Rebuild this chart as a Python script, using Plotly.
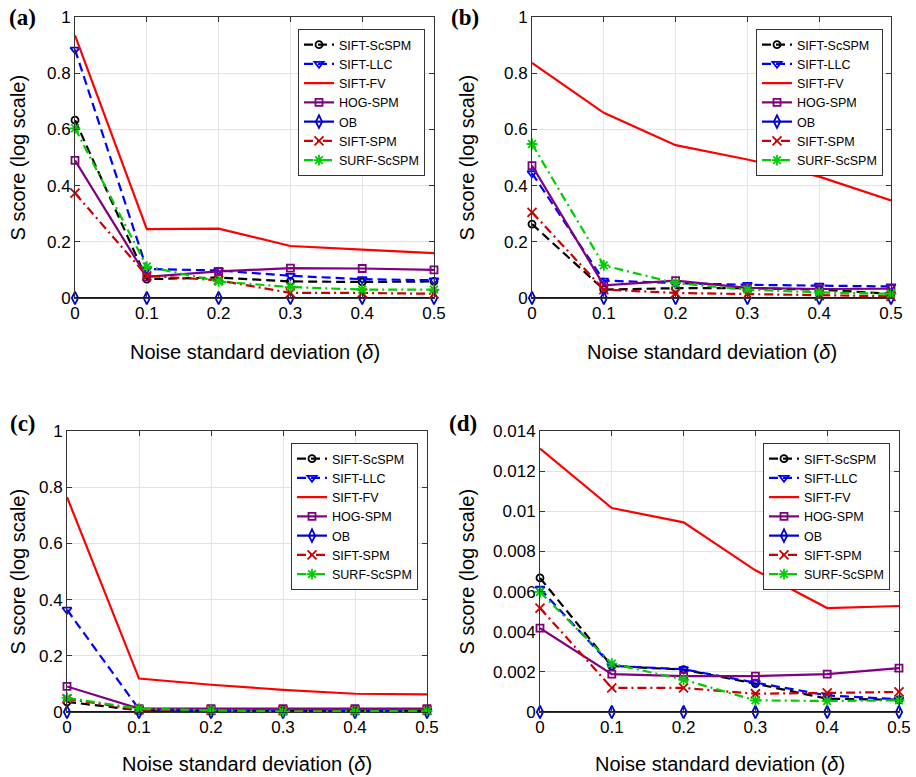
import plotly.graph_objects as go

W, H = 916, 777

noise = [0, 0.1, 0.2, 0.3, 0.4, 0.5]
methods = ["SIFT-ScSPM", "SIFT-LLC", "SIFT-FV", "HOG-SPM", "OB", "SIFT-SPM", "SURF-ScSPM"]

# Panel (a)
a_sift_scspm = [0.633, 0.067, 0.073, 0.059, 0.057, 0.059]
a_sift_llc = [0.884, 0.103, 0.098, 0.079, 0.067, 0.063]
a_sift_fv = [0.935, 0.245, 0.247, 0.185, 0.172, 0.160]
a_hog_spm = [0.490, 0.075, 0.095, 0.106, 0.105, 0.100]
a_ob = [0, 0, 0, 0, 0, 0]
a_sift_spm = [0.373, 0.079, 0.063, 0.018, 0.018, 0.015]
a_surf_scspm = [0.604, 0.112, 0.059, 0.039, 0.030, 0.030]

# Panel (b)
b_sift_scspm = [0.263, 0.030, 0.035, 0.035, 0.030, 0.015]
b_sift_llc = [0.444, 0.062, 0.053, 0.047, 0.044, 0.041]
b_sift_fv = [0.837, 0.659, 0.544, 0.493, 0.432, 0.347]
b_hog_spm = [0.471, 0.045, 0.062, 0.036, 0.032, 0.033]
b_ob = [0, 0, 0, 0, 0, 0]
b_sift_spm = [0.305, 0.030, 0.018, 0.014, 0.008, 0.006]
b_surf_scspm = [0.548, 0.116, 0.053, 0.030, 0.020, 0.015]

# Panel (c)
c_sift_scspm = [0.036, 0.006, 0.005, 0.005, 0.005, 0.005]
c_sift_llc = [0.364, 0.010, 0.005, 0.005, 0.005, 0.005]
c_sift_fv = [0.765, 0.119, 0.097, 0.079, 0.065, 0.063]
c_hog_spm = [0.091, 0.012, 0.012, 0.012, 0.012, 0.012]
c_ob = [0, 0, 0, 0, 0, 0]
c_sift_spm = [0.047, 0.008, 0.006, 0.006, 0.006, 0.006]
c_surf_scspm = [0.050, 0.012, 0.006, 0.002, 0.003, 0.004]

# Panel (d)
d_sift_scspm = [0.00668, 0.00229, 0.00211, 0.00141, 0.00066, 0.00061]
d_sift_llc = [0.00614, 0.00230, 0.00213, 0.00146, 0.00083, 0.00063]
d_sift_fv = [0.01312, 0.01016, 0.00945, 0.00706, 0.00518, 0.00528]
d_hog_spm = [0.00418, 0.00189, 0.00179, 0.00179, 0.00189, 0.00219]
d_ob = [0, 0, 0, 0, 0, 0]
d_sift_spm = [0.00518, 0.00120, 0.00120, 0.00091, 0.00095, 0.00100]
d_surf_scspm = [0.00598, 0.00241, 0.00161, 0.00058, 0.00055, 0.00058]

panel_labels = ["(a)", "(b)", "(c)", "(d)"]
x_ticks = [0, 0.1, 0.2, 0.3, 0.4, 0.5]
x_ticktext = ["0", "0.1", "0.2", "0.3", "0.4", "0.5"]
y_ticks_abc = [0, 0.2, 0.4, 0.6, 0.8, 1]
y_ticktext_abc = ["0", "0.2", "0.4", "0.6", "0.8", "1"]
y_ticks_d = [0, 0.002, 0.004, 0.006, 0.008, 0.01, 0.012, 0.014]
y_ticktext_d = ["0", "0.002", "0.004", "0.006", "0.008", "0.01", "0.012", "0.014"]

panels = [
    [a_sift_scspm, a_sift_llc, a_sift_fv, a_hog_spm, a_ob, a_sift_spm, a_surf_scspm],
    [b_sift_scspm, b_sift_llc, b_sift_fv, b_hog_spm, b_ob, b_sift_spm, b_surf_scspm],
    [c_sift_scspm, c_sift_llc, c_sift_fv, c_hog_spm, c_ob, c_sift_spm, c_surf_scspm],
    [d_sift_scspm, d_sift_llc, d_sift_fv, d_hog_spm, d_ob, d_sift_spm, d_surf_scspm],
]

DASH = "9px,5px"
DASHDOT = "9px,4px,2px,4px"
styles = {
    "SIFT-ScSPM": dict(color="#000000", dash=DASH, symbol="circle-open", size=7),
    "SIFT-LLC": dict(color="#0000FF", dash=DASH, symbol="triangle-down-open", size=8),
    "SIFT-FV": dict(color="#FF0000", dash="solid", symbol=None, size=0),
    "HOG-SPM": dict(color="#800080", dash="solid", symbol="square-open", size=7),
    "OB": dict(color="#0000CD", dash="solid", symbol="diamond-tall-open", size=9),
    "SIFT-SPM": dict(color="#CC0000", dash=DASHDOT, symbol="x-thin-open", size=9),
    "SURF-ScSPM": dict(color="#00CC00", dash=DASHDOT, symbol="asterisk-open", size=9),
}

# pixel boxes: (left, right, top, bottom)
boxes = [(75, 434, 17, 298), (532, 891, 17, 298), (67, 427, 431, 712), (540, 899, 431, 712)]
legend_boxes = [(425, 29), (883, 29), (418, 443), (890, 443)]
label_pos = [(22, 17), (465, 17), (23, 423), (463, 423)]
ytitle_x = [17, 466, 17, 466]
xtitle_y = [352, 352, 764, 764]

FONT = "Liberation Sans, Arial, Helvetica, sans-serif"

def px(x):
    return x / W

def py(y):
    return 1 - y / H

fig = go.Figure()
layout = dict(
    width=W, height=H,
    margin=dict(l=0, r=0, t=0, b=0, autoexpand=False),
    paper_bgcolor="white", plot_bgcolor="white",
    font=dict(family=FONT, color="#000000"),
    annotations=[],
)

for i, data in enumerate(panels):
    n = i + 1
    xa = "x" if n == 1 else f"x{n}"
    ya = "y" if n == 1 else f"y{n}"
    leg = "legend" if n == 1 else f"legend{n}"
    for name, vals in zip(methods, data):
        st = styles[name]
        mode = "lines" if st["symbol"] is None else "lines+markers"
        marker = dict()
        if st["symbol"] is not None:
            marker = dict(symbol=st["symbol"], size=st["size"], color=st["color"],
                          line=dict(color=st["color"], width=1.8))
        fig.add_trace(go.Scatter(
            x=noise, y=vals, name=name, mode=mode,
            line=dict(color=st["color"], width=2.2, dash=st["dash"]),
            marker=marker, xaxis=xa, yaxis=ya, legend=leg,
            cliponaxis=False,
        ))
    l, r, t, b = boxes[i]
    axkey_x = "xaxis" if n == 1 else f"xaxis{n}"
    axkey_y = "yaxis" if n == 1 else f"yaxis{n}"
    common = dict(
        showline=True, linecolor="#333333", linewidth=1, mirror="ticks",
        ticks="inside", ticklen=5, tickcolor="#333333",
        showgrid=True, gridcolor="#E3E3E3", gridwidth=1,
        zeroline=False, tickfont=dict(family=FONT, size=17, color="#000000"),
    )
    layout[axkey_x] = dict(
        domain=[px(l), px(r)], anchor=ya, range=[0, 0.5],
        tickvals=x_ticks, ticktext=x_ticktext, **common,
    )
    if n == 4:
        layout[axkey_y] = dict(domain=[py(b), py(t)], anchor=xa, range=[0, 0.014],
                               tickvals=y_ticks_d, ticktext=y_ticktext_d, **common)
    else:
        layout[axkey_y] = dict(domain=[py(b), py(t)], anchor=xa, range=[0, 1],
                               tickvals=y_ticks_abc, ticktext=y_ticktext_abc, **common)
    lx, ly = legend_boxes[i]
    layout[leg] = dict(
        x=px(lx), y=py(ly), xanchor="right", yanchor="top",
        bgcolor="white", bordercolor="#333333", borderwidth=1,
        font=dict(family=FONT, size=12.5, color="#000000"),
        tracegroupgap=0, itemwidth=30,
    )
    cx = (l + r) / 2
    layout["annotations"].append(dict(
        text="Noise standard deviation (<i>δ</i>)", x=px(cx), y=py(xtitle_y[i]),
        xref="paper", yref="paper", xanchor="center", yanchor="middle",
        showarrow=False, font=dict(family=FONT, size=20),
    ))
    layout["annotations"].append(dict(
        text="S score (log scale)", x=px(ytitle_x[i]), y=py((t + b) / 2),
        xref="paper", yref="paper", xanchor="center", yanchor="middle",
        textangle=-90, showarrow=False, font=dict(family=FONT, size=20),
    ))
    lbx, lby = label_pos[i]
    layout["annotations"].append(dict(
        text="<b>" + panel_labels[i] + "</b>", x=px(lbx), y=py(lby),
        xref="paper", yref="paper", xanchor="center", yanchor="middle",
        showarrow=False,
        font=dict(family="Liberation Serif, Times New Roman, serif", size=23),
    ))

fig.update_layout(**layout)
fig.write_html(
    "out.html",
    config={"displayModeBar": False},
    post_script="document.body.style.margin='0';document.body.style.padding='0';"
                "document.documentElement.style.overflow='hidden';",
)
